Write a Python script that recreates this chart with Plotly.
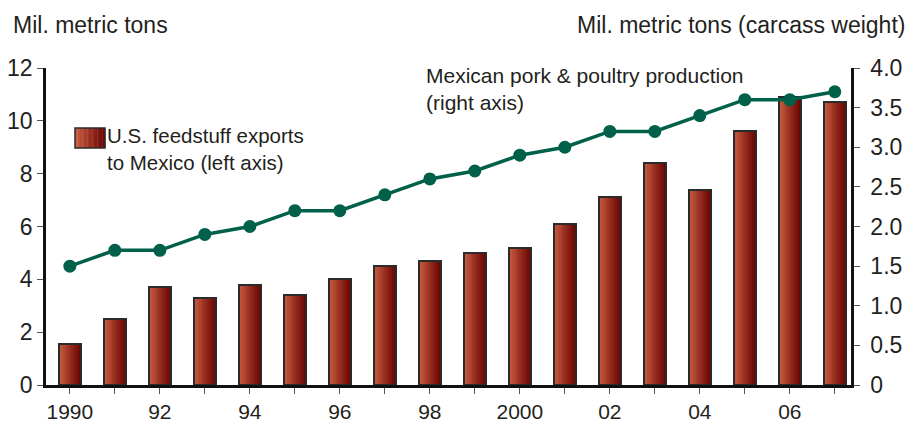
import plotly.graph_objects as go

# Data
years = list(range(1990, 2008))
feed_exports = [1.55, 2.5, 3.7, 3.3, 3.8, 3.4, 4.0, 4.5, 4.7, 5.0, 5.2, 6.1, 7.1, 8.4, 7.4, 9.6, 10.9, 10.7]
pork_poultry = [1.5, 1.7, 1.7, 1.9, 2.0, 2.2, 2.2, 2.4, 2.6, 2.7, 2.9, 3.0, 3.2, 3.2, 3.4, 3.6, 3.6, 3.7]
x_tick_vals = list(range(1990, 2008))
x_tick_text = ["1990", "", "92", "", "94", "", "96", "", "98", "", "2000", "", "02", "", "04", "", "06", ""]
left_ticks = [0, 2, 4, 6, 8, 10, 12]
right_ticks = [0, 0.5, 1.0, 1.5, 2.0, 2.5, 3.0, 3.5, 4.0]
right_tick_text = ["0", "0.5", "1.0", "1.5", "2.0", "2.5", "3.0", "3.5", "4.0"]

FONT = "Liberation Sans, Arial, sans-serif"
TXT = "#231f20"
GREEN = "#00604a"

# horizontal gradient for the bars, light red on the left to dark maroon on the right
c0 = (200, 92, 64)
c1 = (108, 6, 4)
n_slices = 12
bar_w = 0.5

fig = go.Figure()
for i in range(n_slices):
    t = i / (n_slices - 1)
    col = tuple(round(a + (b - a) * t) for a, b in zip(c0, c1))
    fig.add_trace(go.Bar(
        x=years, y=feed_exports,
        width=bar_w / n_slices + 0.002,
        offset=-bar_w / 2 + i * bar_w / n_slices,
        marker=dict(color=f"rgb{col}", line=dict(width=0)),
        showlegend=False, hoverinfo="skip",
    ))
# dark outline around each bar
fig.add_trace(go.Bar(
    x=years, y=feed_exports, width=bar_w, offset=-bar_w / 2,
    marker=dict(color="rgba(0,0,0,0)", line=dict(color="#2b2b2b", width=2)),
    showlegend=False, name="U.S. feedstuff exports to Mexico",
))

fig.add_trace(go.Scatter(
    x=years, y=pork_poultry, yaxis="y2", mode="lines+markers",
    line=dict(color=GREEN, width=3.5),
    marker=dict(color=GREEN, size=13),
    showlegend=False, name="Mexican pork & poultry production",
))

# legend swatch drawn in paper coordinates
W, H = 916, 424
ml, mr, mt, mb = 46, 65, 68, 39
pw, ph = W - ml - mr, H - mt - mb
def px(xp):
    return (xp - ml) / pw
def py(yp):
    return (H - mb - yp) / ph

shapes = []
sx0, sx1, sy0, sy1 = 75, 105, 128, 148
for i in range(n_slices):
    t = i / (n_slices - 1)
    col = tuple(round(a + (b - a) * t) for a, b in zip(c0, c1))
    xa = sx0 + (sx1 - sx0) * i / n_slices
    xb = sx0 + (sx1 - sx0) * (i + 1) / n_slices + 0.3
    shapes.append(dict(type="rect", xref="paper", yref="paper",
                       x0=px(xa), x1=px(xb), y0=py(sy1), y1=py(sy0),
                       fillcolor=f"rgb{col}", line=dict(width=0), layer="above"))
shapes.append(dict(type="rect", xref="paper", yref="paper",
                   x0=px(sx0), x1=px(sx1), y0=py(sy1), y1=py(sy0),
                   fillcolor="rgba(0,0,0,0)", line=dict(color="#2b2b2b", width=1.5), layer="above"))

annotations = [
    dict(text="Mil. metric tons", xref="paper", yref="paper",
         x=px(11), y=py(25), xanchor="left", yanchor="middle", showarrow=False,
         font=dict(family=FONT, size=23, color=TXT)),
    dict(text="Mil. metric tons (carcass weight)", xref="paper", yref="paper",
         x=px(907), y=py(25), xanchor="right", yanchor="middle", showarrow=False,
         font=dict(family=FONT, size=23, color=TXT)),
    dict(text="U.S. feedstuff exports<br>to Mexico (left axis)", xref="paper", yref="paper",
         x=px(105), y=py(122), xanchor="left", yanchor="top", showarrow=False, align="left",
         font=dict(family=FONT, size=20.5, color=TXT)),
    dict(text="Mexican pork & poultry production<br>(right axis)", xref="paper", yref="paper",
         x=px(424), y=py(62), xanchor="left", yanchor="top", showarrow=False, align="left",
         font=dict(family=FONT, size=21, color=TXT)),
]

axis_common = dict(
    ticks="outside", tickwidth=1.2, tickcolor="#555",
    showline=True, linecolor="#111", linewidth=2.5, showgrid=False, zeroline=False,
    automargin=False,
)

fig.update_layout(
    width=W, height=H,
    margin=dict(l=ml, r=mr, t=mt, b=mb, pad=0),
    paper_bgcolor="white", plot_bgcolor="white",
    barmode="overlay", bargap=0,
    font=dict(family=FONT, size=23, color=TXT),
    xaxis=dict(
        range=[1990 - 0.53, 1990 + 17.36], tickmode="array",
        tickvals=x_tick_vals, ticktext=x_tick_text, ticklen=6,
        tickfont=dict(family=FONT, size=21, color=TXT), **axis_common,
    ),
    yaxis=dict(
        range=[0, 12], tickmode="array", tickvals=left_ticks, ticklen=6,
        tickfont=dict(family=FONT, size=23, color=TXT), **axis_common,
    ),
    yaxis2=dict(
        range=[0, 4], overlaying="y", side="right", tickmode="array",
        tickvals=right_ticks, ticktext=right_tick_text, ticklen=6, ticklabelstandoff=6,
        tickfont=dict(family=FONT, size=23, color=TXT), **axis_common,
    ),
    shapes=shapes,
    annotations=annotations,
    showlegend=False,
)

fig.write_html("out.html")
